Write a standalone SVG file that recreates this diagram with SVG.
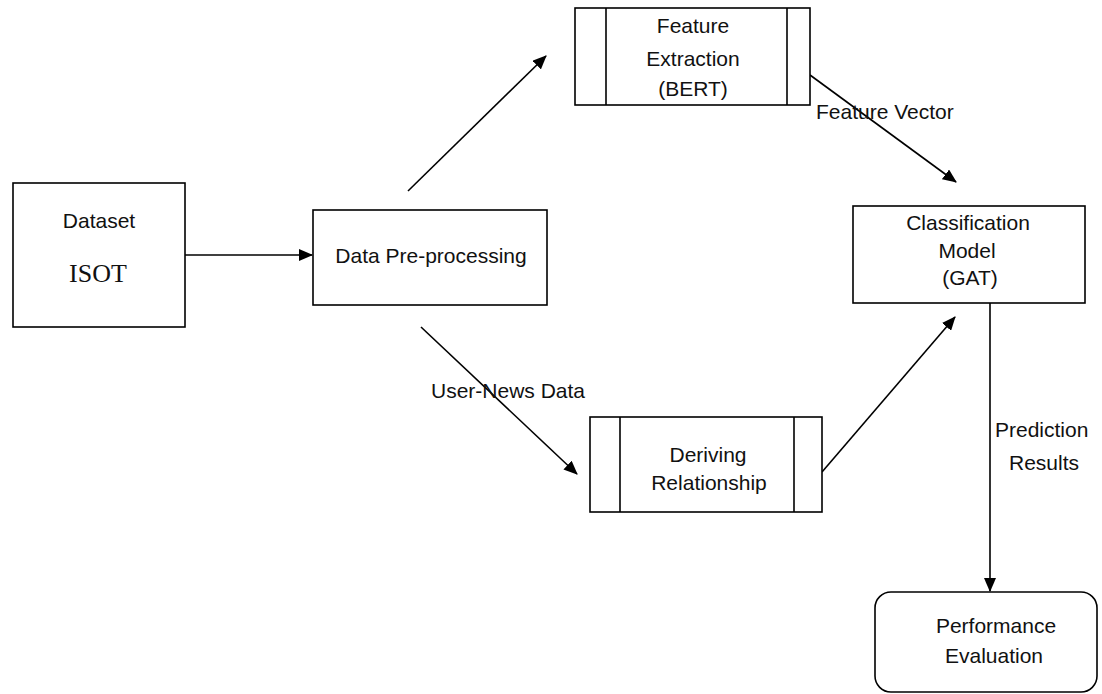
<svg xmlns="http://www.w3.org/2000/svg" width="1102" height="694" viewBox="0 0 1102 694">
<style>
  .box { fill: #ffffff; stroke: #000000; stroke-width: 1.6; }
  .bar { stroke: #000000; stroke-width: 1.6; fill: none; }
  .t { font-family: "Liberation Sans", Arial, sans-serif; font-size: 21px; fill: #111111; text-anchor: middle; }
  .ts { font-family: "Liberation Serif", "Times New Roman", serif; font-size: 26px; fill: #111111; text-anchor: middle; }
  .tl { font-family: "Liberation Sans", Arial, sans-serif; font-size: 21px; fill: #111111; }
  .conn { stroke: #000000; stroke-width: 1.6; fill: none; marker-end: url(#arrow); }
</style>
<defs>
  <marker id="arrow" markerUnits="userSpaceOnUse" markerWidth="14" markerHeight="12" viewBox="0 0 14 12" refX="13" refY="6" orient="auto">
    <path d="M0,0 L14,6 L0,12 Z" fill="#000000"/>
  </marker>
</defs>
<rect width="1102" height="694" fill="#ffffff"/>

<g id="connectors">
  <line class="conn" x1="185" y1="255" x2="312" y2="255"/>
  <line class="conn" x1="408" y1="191" x2="546" y2="56"/>
  <line class="conn" x1="810" y1="75" x2="956" y2="182"/>
  <line class="conn" x1="421" y1="327" x2="577" y2="474"/>
  <line class="conn" x1="822" y1="472" x2="955" y2="317"/>
  <line class="conn" x1="990" y1="303" x2="990" y2="591"/>
  <text class="tl" x="816" y="119">Feature Vector</text>
  <text class="tl" x="431" y="398">User-News Data</text>
  <text class="tl" x="995" y="437">Prediction</text>
  <text class="t" x="1044" y="470">Results</text>
</g>

<g id="dataset">
  <rect class="box" x="13" y="183" width="172" height="144"/>
  <text class="t" x="99" y="228">Dataset</text>
  <text class="ts" x="98" y="282">ISOT</text>
</g>

<g id="preprocessing">
  <rect class="box" x="313" y="210" width="234" height="95"/>
  <text class="t" x="431" y="263">Data Pre-processing</text>
</g>

<g id="feature-extraction">
  <rect class="box" x="575" y="8" width="235" height="97"/>
  <line class="bar" x1="606" y1="8" x2="606" y2="105"/>
  <line class="bar" x1="787" y1="8" x2="787" y2="105"/>
  <text class="t" x="693" y="33">Feature</text>
  <text class="t" x="693" y="66">Extraction</text>
  <text class="t" x="693" y="96">(BERT)</text>
</g>

<g id="deriving-relationship">
  <rect class="box" x="590" y="417" width="232" height="95"/>
  <line class="bar" x1="620" y1="417" x2="620" y2="512"/>
  <line class="bar" x1="794" y1="417" x2="794" y2="512"/>
  <text class="t" x="708" y="462">Deriving</text>
  <text class="t" x="709" y="490">Relationship</text>
</g>

<g id="classification">
  <rect class="box" x="853" y="206" width="232" height="97"/>
  <text class="t" x="968" y="230">Classification</text>
  <text class="t" x="967" y="258">Model</text>
  <text class="t" x="970" y="285">(GAT)</text>
</g>

<g id="performance">
  <rect class="box" x="875" y="592" width="222" height="100" rx="16" ry="16"/>
  <text class="t" x="996" y="633">Performance</text>
  <text class="t" x="994" y="663">Evaluation</text>
</g>
</svg>
